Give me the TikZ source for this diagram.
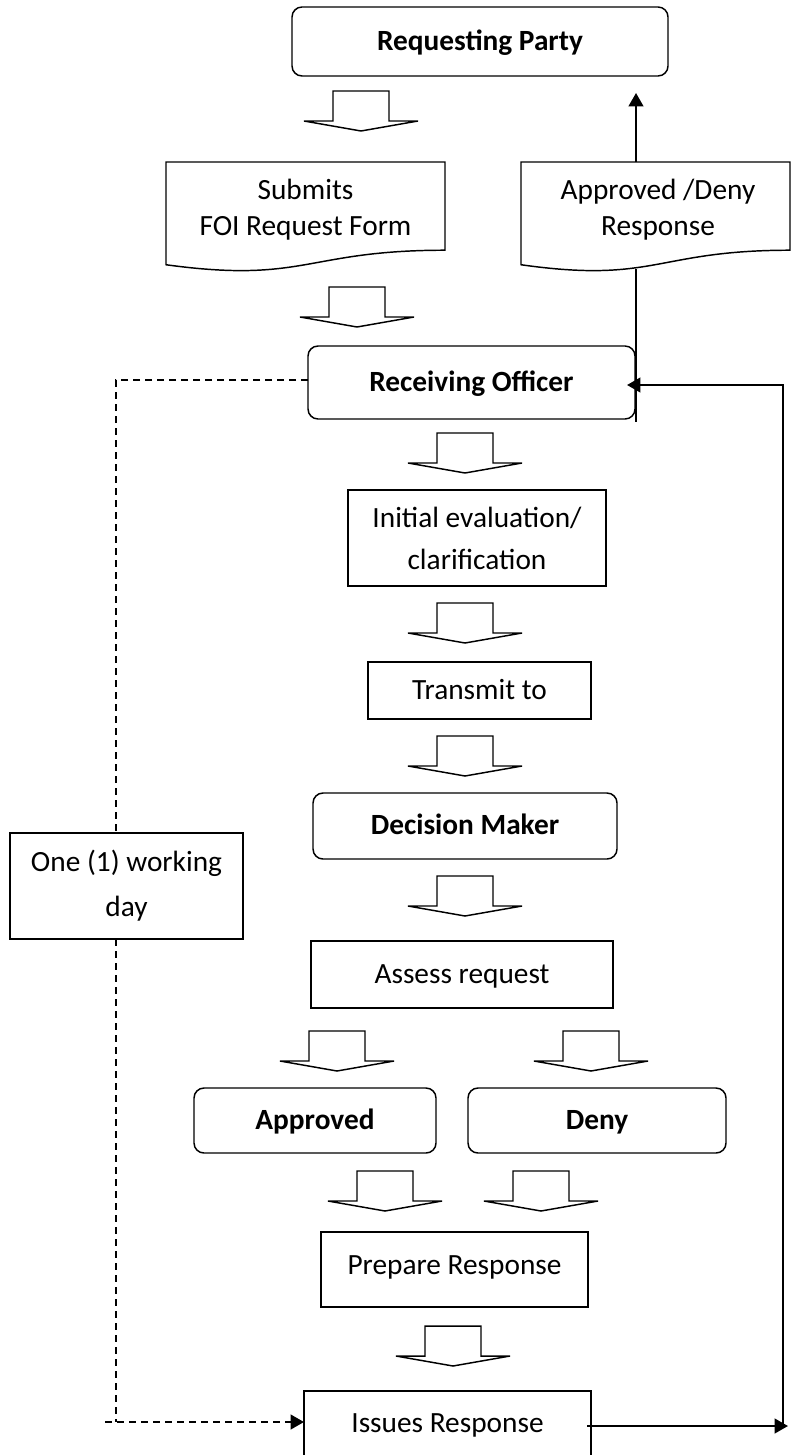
\documentclass[tikz,border=0pt]{standalone}
\usepackage{fontspec}
\setmainfont{Carlito}
\usetikzlibrary{arrows.meta}
\newcommand\blockarr[2]{\draw[barrow] ({#1-28},#2) -- ({#1+28},#2) -- ({#1+28},{#2+30}) -- ({#1+57},{#2+30}) -- (#1,{#2+40}) -- ({#1-57},{#2+30}) -- ({#1-28},{#2+30}) -- cycle;}
\newcommand\docshape[4]{\draw[line width=1.1pt] (#1,#3) -- (#2,#3) -- (#2,{#3+0.802*#4}) .. controls ({(#1+#2)/2},{#3+0.802*#4}) and ({(#1+#2)/2},{#3+1.1075*#4}) .. (#1,{#3+0.934*#4}) -- cycle;}
\begin{document}
\begin{tikzpicture}[x=0.75pt,y=-0.75pt,
  txt/.style={inner sep=0pt, align=center, font=\fontsize{22}{27}\selectfont},
  box/.style={draw, line width=1.1pt, inner sep=0pt, outer sep=0pt, align=center, font=\fontsize{22}{31.5}\selectfont},
  single/.style={text height=17pt, text depth=4pt},
  rbox/.style={box, single, rounded corners=7.5pt, font=\bfseries\fontsize{22}{27}\selectfont},
  sz/.style 2 args={minimum width=#1*0.75pt, minimum height=#2*0.75pt},
  barrow/.style={draw, line width=1.1pt, fill=white, line join=miter},
  tip/.style={-{Triangle[length=10pt,width=11pt]}},
  conn/.style={line width=1.5pt},
  dashline/.style={line width=1.5pt, dash pattern=on 5.5pt off 3.5pt}]
\clip (0,0) rectangle (793,1455);
\fill[white] (0,0) rectangle (793,1455);

% boxes
\node[rbox, sz={376}{69}] (rp) at (480,41.5) {Requesting Party};
\node[rbox, sz={327}{73}] (ro) at (471.5,382.5) {Receiving Officer};
\node[box, sz={258}{96}] (ie) at (477,538) {Initial evaluation/\\clarification};
\node[box, single, sz={223}{57}] (tr) at (479.5,690.5) {Transmit to};
\node[rbox, sz={304}{66}] (dm) at (465,826) {Decision Maker};
\node[box, single, sz={302}{67}] (ar) at (462,974.5) {Assess request};
\node[rbox, sz={242}{65}] (ap) at (315,1120.5) {Approved};
\node[rbox, sz={258}{65}] (dn) at (597,1120.5) {Deny};
\node[box, single, sz={267}{75}] (pr) at (454.5,1269.5) {\raisebox{3pt}{Prepare Response}};
\node[box, single, sz={287}{69}] (iss) at (447.5,1425.5) {\raisebox{1pt}{Issues Response}};
\node[box, sz={233}{106}, font=\fontsize{22}{33.75}\selectfont] (one) at (126.5,886) {One (1) working\\day};

% document shapes
\docshape{166}{445}{162}{110}
\node[txt] (sub) at (305.5,210) {Submits\\FOI Request Form};
\docshape{521}{790}{162}{110}
\node[txt] (ad) at (658,210) {Approved /Deny\\Response};

% block arrows
\blockarr{361}{91}
\blockarr{357}{287}
\blockarr{465}{433}
\blockarr{465}{603}
\blockarr{465}{736}
\blockarr{465}{876}
\blockarr{337}{1031}
\blockarr{591}{1031}
\blockarr{385}{1171}
\blockarr{541}{1171}
\blockarr{453}{1326}

% response to requesting party
\coordinate (adtop) at (636,162);
\coordinate (rptip) at (636,93);
\draw[conn, tip] (adtop) -- (rptip);
\coordinate (adbot) at (636,269);
\coordinate (vend) at (636,422);
\draw[conn] (adbot) -- (vend);

% issues response back to receiving officer
\coordinate (irout) at (587,1426);
\coordinate (rtip) at (788,1426);
\draw[conn, tip] (irout) -- (rtip);
\coordinate (rv) at (783,1427);
\coordinate (rtop) at (783,385);
\coordinate (rotip) at (627,385);
\draw[conn, tip] (rv) -- (rtop) -- (rotip);

% dashed one working day
\coordinate (d1) at (116,380);
\draw[dashline] (ro.west |- d1) -- (d1) -- (d1 |- one.north);
\coordinate (d2) at (116,1422);
\draw[dashline] (d1 |- one.south) -- (d2);
\coordinate (d3) at (105,1422);
\draw[dashline, tip] (d3) -- (iss.west |- d2);
\end{tikzpicture}
\end{document}
